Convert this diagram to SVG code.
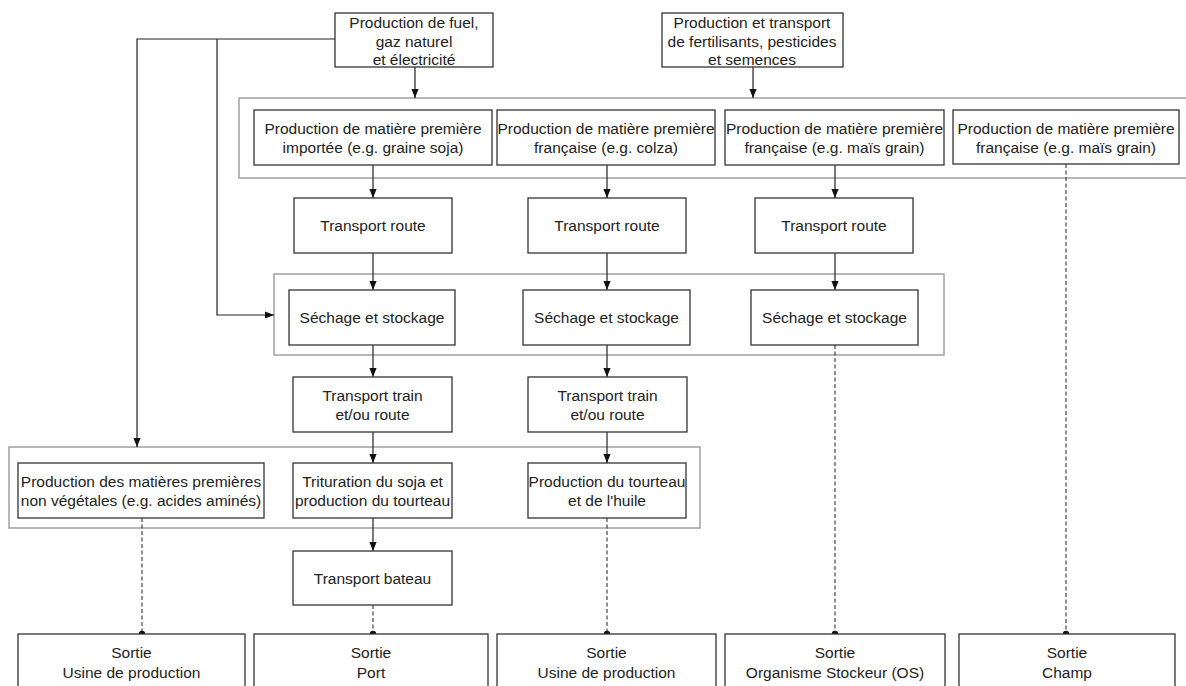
<svg xmlns="http://www.w3.org/2000/svg" width="1186" height="686" viewBox="0 0 1186 686">
<style>
.box{fill:#fff;stroke:#333;stroke-width:1.3}
.cont{fill:none;stroke:#a0a0a0;stroke-width:1.5}
.t{font-family:"Liberation Sans",Arial,sans-serif;font-size:15.5px;fill:#222;text-anchor:middle}
.c{fill:none;stroke:#222;stroke-width:1.2}
.d{fill:none;stroke:#333;stroke-width:1.1;stroke-dasharray:4,2.5}
.dot{fill:#111}
</style>
<defs>
<marker id="ah" viewBox="0 0 10 10" refX="10" refY="5" markerWidth="9" markerHeight="9" markerUnits="userSpaceOnUse" orient="auto">
<path d="M0,1 L10,5 L0,9 Z" fill="#111"/>
</marker>
</defs>
<rect class="box" x="0" y="0" width="1186" height="686" style="stroke:none"/>
<g id="containers">
<rect class="cont" x="239" y="98" width="960" height="80"/>
<rect class="cont" x="274" y="274" width="670" height="81"/>
<rect class="cont" x="9" y="447" width="691" height="81"/>
</g>
<g id="connectors">
<path class="c" d="M335,39 H137 V447" marker-end="url(#ah)"/>
<path class="c" d="M217,39 V315 H274" marker-end="url(#ah)"/>
<path class="c" d="M415,67 V98" marker-end="url(#ah)"/>
<path class="c" d="M753,67 V98" marker-end="url(#ah)"/>
<path class="c" d="M373,165 V198" marker-end="url(#ah)"/>
<path class="c" d="M373,253 V290" marker-end="url(#ah)"/>
<path class="c" d="M373,345 V377" marker-end="url(#ah)"/>
<path class="c" d="M373,432 V463" marker-end="url(#ah)"/>
<path class="c" d="M373,518 V551" marker-end="url(#ah)"/>
<path class="c" d="M607,165 V198" marker-end="url(#ah)"/>
<path class="c" d="M607,253 V290" marker-end="url(#ah)"/>
<path class="c" d="M607,345 V377" marker-end="url(#ah)"/>
<path class="c" d="M607,432 V463" marker-end="url(#ah)"/>
<path class="c" d="M835,165 V198" marker-end="url(#ah)"/>
<path class="c" d="M835,253 V290" marker-end="url(#ah)"/>
<path class="d" d="M142,518 V634"/>
<path class="d" d="M373,605 V634"/>
<path class="d" d="M607,518 V634"/>
<path class="d" d="M835,345 V634"/>
<path class="d" d="M1066,164 V634"/>
<circle class="dot" cx="142" cy="634" r="3.2"/>
<circle class="dot" cx="373" cy="634" r="3.2"/>
<circle class="dot" cx="607" cy="634" r="3.2"/>
<circle class="dot" cx="835" cy="634" r="3.2"/>
<circle class="dot" cx="1066" cy="634" r="3.2"/>
</g>
<g id="n-fuel"><rect class="box" x="335" y="13" width="158" height="54"/>
<text class="t" x="414" y="28">Production de fuel,</text><text class="t" x="414" y="47">gaz naturel</text><text class="t" x="414" y="65">et électricité</text></g>
<g id="n-fert"><rect class="box" x="662" y="13" width="181" height="54"/>
<text class="t" x="752" y="28">Production et transport</text><text class="t" x="752" y="47">de fertilisants, pesticides</text><text class="t" x="752" y="65">et semences</text></g>
<g id="n-matA"><rect class="box" x="254" y="110" width="238" height="55"/>
<text class="t" x="373" y="134">Production de matière première</text><text class="t" x="373" y="153">importée (e.g. graine soja)</text></g>
<g id="n-matB"><rect class="box" x="497" y="110" width="218" height="55"/>
<text class="t" x="606" y="134">Production de matière première</text><text class="t" x="606" y="153">française (e.g. colza)</text></g>
<g id="n-matC"><rect class="box" x="725" y="110" width="219" height="55"/>
<text class="t" x="834.5" y="134">Production de matière première</text><text class="t" x="834.5" y="153">française (e.g. maïs grain)</text></g>
<g id="n-matD"><rect class="box" x="953" y="110" width="226" height="54"/>
<text class="t" x="1066" y="134">Production de matière première</text><text class="t" x="1066" y="153">française (e.g. maïs grain)</text></g>
<g id="n-trA"><rect class="box" x="294" y="198" width="158" height="55"/><text class="t" x="373" y="231">Transport route</text></g>
<g id="n-trB"><rect class="box" x="528" y="198" width="158" height="55"/><text class="t" x="607" y="231">Transport route</text></g>
<g id="n-trC"><rect class="box" x="755" y="198" width="158" height="55"/><text class="t" x="834" y="231">Transport route</text></g>
<g id="n-seA"><rect class="box" x="289" y="290" width="166" height="55"/><text class="t" x="372" y="323">Séchage et stockage</text></g>
<g id="n-seB"><rect class="box" x="523" y="290" width="167" height="55"/><text class="t" x="606.5" y="323">Séchage et stockage</text></g>
<g id="n-seC"><rect class="box" x="751" y="290" width="167" height="55"/><text class="t" x="834.5" y="323">Séchage et stockage</text></g>
<g id="n-ttA"><rect class="box" x="293" y="377" width="159" height="55"/><text class="t" x="372.5" y="401">Transport train</text><text class="t" x="372.5" y="420">et/ou route</text></g>
<g id="n-ttB"><rect class="box" x="528" y="377" width="159" height="55"/><text class="t" x="607.5" y="401">Transport train</text><text class="t" x="607.5" y="420">et/ou route</text></g>
<g id="n-nonveg"><rect class="box" x="18" y="463" width="246" height="55"/><text class="t" x="141" y="487">Production des matières premières</text><text class="t" x="141" y="506">non végétales (e.g. acides aminés)</text></g>
<g id="n-trit"><rect class="box" x="293" y="463" width="159" height="55"/><text class="t" x="372.5" y="487">Trituration du soja et</text><text class="t" x="372.5" y="506">production du tourteau</text></g>
<g id="n-tourteau"><rect class="box" x="528" y="463" width="158" height="55"/><text class="t" x="607" y="487">Production du tourteau</text><text class="t" x="607" y="506">et de l'huile</text></g>
<g id="n-bateau"><rect class="box" x="293" y="551" width="159" height="54"/><text class="t" x="372.5" y="584">Transport bateau</text></g>
<g id="n-s1"><rect class="box" x="18" y="634" width="227" height="70"/><text class="t" x="131.5" y="658">Sortie</text><text class="t" x="131.5" y="678">Usine de production</text></g>
<g id="n-s2"><rect class="box" x="254" y="634" width="234" height="70"/><text class="t" x="371" y="658">Sortie</text><text class="t" x="371" y="678">Port</text></g>
<g id="n-s3"><rect class="box" x="497" y="634" width="219" height="70"/><text class="t" x="606.5" y="658">Sortie</text><text class="t" x="606.5" y="678">Usine de production</text></g>
<g id="n-s4"><rect class="box" x="725" y="634" width="220" height="70"/><text class="t" x="835" y="658">Sortie</text><text class="t" x="835" y="678">Organisme Stockeur (OS)</text></g>
<g id="n-s5"><rect class="box" x="959" y="634" width="216" height="70"/><text class="t" x="1067" y="658">Sortie</text><text class="t" x="1067" y="678">Champ</text></g>
</svg>
